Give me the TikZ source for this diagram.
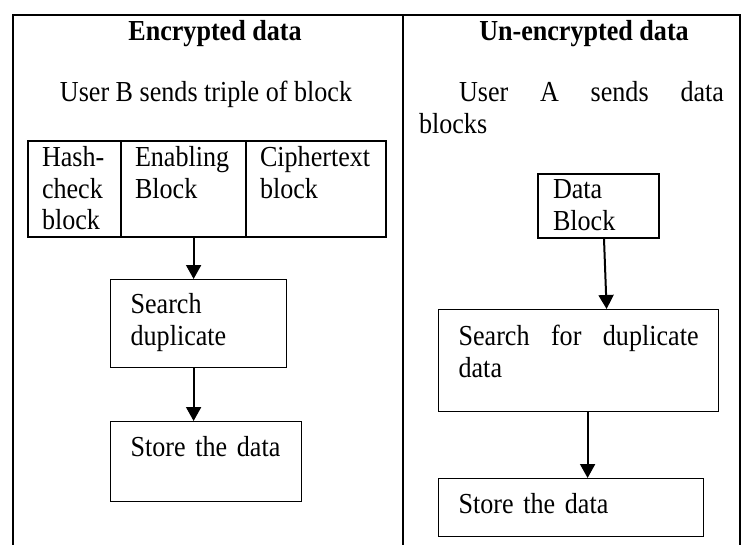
\documentclass[tikz,border=0pt]{standalone}
\usepackage{fontspec}
\setmainfont{Liberation Serif}[FakeStretch=0.9]
\usetikzlibrary{positioning, arrows.meta}

\begin{document}
\begin{tikzpicture}[x=1pt,y=-1pt,>={Triangle[length=14pt,width=15pt]},line width=2pt,
    font=\fontsize{29}{31.5}\selectfont]
  \tikzstyle{every node}=[inner ysep=0pt,align=left]
  \tikzstyle{thinbox}=[draw,line width=1.2pt,anchor=north west,inner xsep=20pt]
  \tikzstyle{cell}=[draw,line width=1.8pt,anchor=north west,outer sep=0pt,inner xsep=14pt,text height=26pt,text depth=70pt]
  \tikzstyle{heading}=[anchor=base,font=\fontsize{29}{31.5}\selectfont\bfseries]

  \useasboundingbox (0,0) rectangle (743,545);

  % table rules
  \draw (13,545) -- (13,15) -- (740,15) -- (740,545);
  \draw (403,15) -- (403,545);

  \node[heading] (TitleL) at (215,41) {Encrypted data};
  \node[heading] (TitleR) at (584,41) {Un-encrypted data};
  \node[anchor=base] (UserB) at (206,102) {User B sends triple of block};
  \node[anchor=base west,inner xsep=0pt,text width=305pt,align=justify] (UserA) at (418,102)
    {\hspace*{40pt}User A sends data\linebreak blocks};

  % left column
  \node[cell,text width=65pt] (Hash) at (28,141) {Hash-\\check\\block};
  \node[cell,text width=97pt,right=0pt of Hash] (Enab) {Enabling\\Block};
  \node[cell,text width=112pt,right=0pt of Enab] (Ciph) {Ciphertext\\block};
  \node[thinbox,text width=136pt,text height=34pt,text depth=54pt] (SrchL) at (110,279) {Search\\duplicate};
  \node[thinbox,text width=151pt,text height=35pt,text depth=45pt] (StoreL) at (110,421) {Store the data};

  % right column
  \node[thinbox,line width=2pt,inner xsep=15pt,text width=91pt,text height=25pt,text depth=39pt] (Data) at (537,173) {Data\\Block};
  \node[thinbox,text width=240pt,text height=36pt,text depth=66pt,align=justify] (SrchR) at (438,309)
    {Search for duplicate\linebreak data};
  \node[thinbox,text width=225pt,text height=35pt,text depth=23pt] (StoreR) at (438,478) {Store the data};

  \draw[->] ([xshift=-5pt]SrchL.north |- Enab.south) -- ([xshift=-5pt]SrchL.north);
  \draw[->] ([xshift=-5pt]SrchL.south) -- ([xshift=-5pt]SrchL.south |- StoreL.north);
  \draw[->] ([xshift=5.5pt]Data.south) -- ([xshift=28pt]SrchR.north);
  \draw[->] ([xshift=9pt]SrchR.south) -- ([xshift=9pt]SrchR.south |- StoreR.north);
\end{tikzpicture}
\end{document}
